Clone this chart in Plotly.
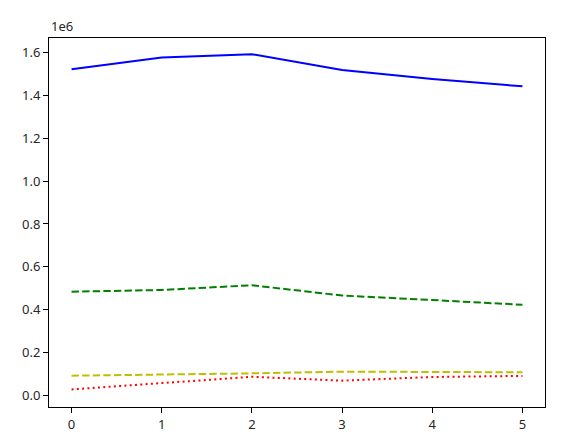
import plotly.graph_objects as go

x = [0, 1, 2, 3, 4, 5]
blue_vals = [1522000, 1577000, 1592000, 1518000, 1476000, 1442000]
green_vals = [484000, 492000, 514000, 466000, 445000, 423000]
yellow_vals = [92000, 97000, 103000, 111000, 109000, 108000]
red_vals = [28000, 59000, 87000, 69000, 86000, 91000]

y_ticks = [0, 200000, 400000, 600000, 800000, 1000000, 1200000, 1400000, 1600000]
y_tick_labels = ["0.0", "0.2", "0.4", "0.6", "0.8", "1.0", "1.2", "1.4", "1.6"]

fig = go.Figure()

series = [
    (blue_vals, "blue", "solid"),
    (green_vals, "green", "7.4px,3.2px"),
    (red_vals, "red", "2px,3.3px"),
    (yellow_vals, "#bfbf00", "7.4px,3.2px"),
]
for vals, color, dash in series:
    fig.add_trace(go.Scatter(
        x=x, y=vals,
        mode="lines",
        line=dict(color=color, width=2, dash=dash),
        showlegend=False,
    ))

axis_style = dict(
    showgrid=False, zeroline=False, automargin=False,
    showline=True, linecolor="black", linewidth=1, mirror=True,
    ticks="outside", ticklen=5, tickwidth=1, tickcolor="black",
    tickfont=dict(size=13, color="#262626"),
)

# page body keeps its default 8px margin, so the figure is 8px smaller
fig.update_layout(
    width=560, height=439,
    margin=dict(l=41, r=23, t=30, b=40),
    paper_bgcolor="white", plot_bgcolor="white",
    font=dict(family="Noto Sans, DejaVu Sans, sans-serif"),
    xaxis=dict(range=[-0.25, 5.25], tickvals=x, **axis_style),
    yaxis=dict(range=[-54000, 1667500], tickvals=y_ticks,
               ticktext=y_tick_labels, **axis_style),
)

fig.add_annotation(
    text="1e6", xref="paper", yref="paper", x=0, y=1,
    xanchor="left", yanchor="bottom", yshift=1,
    showarrow=False, font=dict(size=13, color="#262626"),
)

fig.write_html("out.html")
